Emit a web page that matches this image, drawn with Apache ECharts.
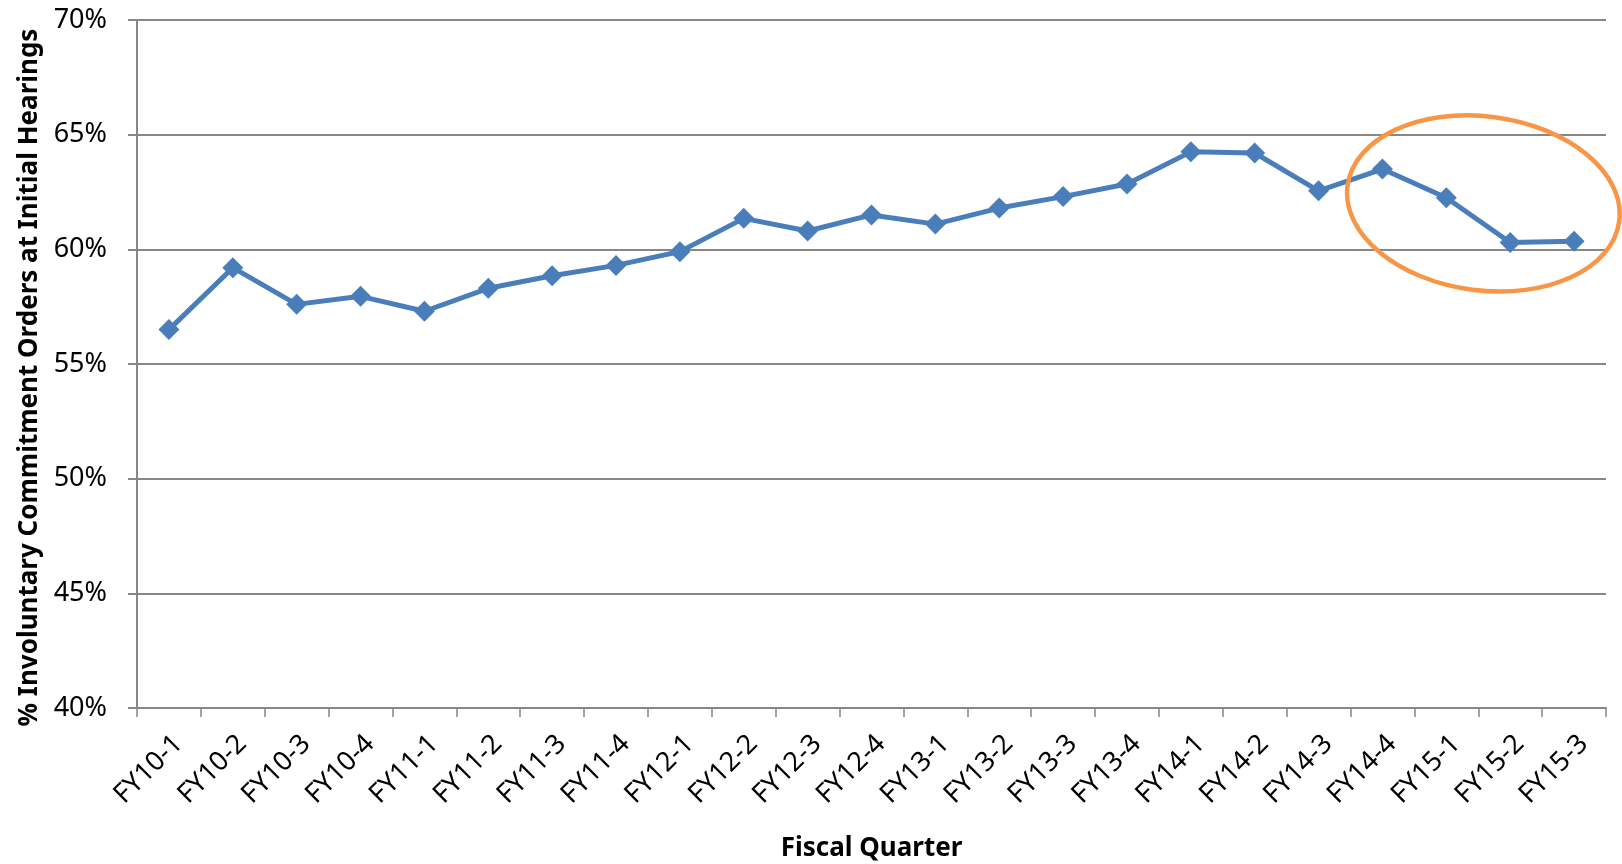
<!DOCTYPE html>
<html>
<head>
<meta charset="utf-8">
<script src="https://cdn.jsdelivr.net/npm/echarts@6/dist/echarts.min.js"></script>
<style>
  html, body { margin: 0; padding: 0; background: #fff; }
  #chart { width: 1622px; height: 864px; }
</style>
</head>
<body>
<div id="chart"></div>
<script>
  // fiscal quarters on the x axis
  var quarters = ['FY10-1', 'FY10-2', 'FY10-3', 'FY10-4', 'FY11-1', 'FY11-2', 'FY11-3', 'FY11-4',
    'FY12-1', 'FY12-2', 'FY12-3', 'FY12-4', 'FY13-1', 'FY13-2', 'FY13-3', 'FY13-4',
    'FY14-1', 'FY14-2', 'FY14-3', 'FY14-4', 'FY15-1', 'FY15-2', 'FY15-3'];
  // % involuntary commitment orders at initial hearings
  var orderPct = [56.5, 59.2, 57.6, 57.95, 57.3, 58.3, 58.85, 59.3,
    59.9, 61.35, 60.8, 61.5, 61.1, 61.8, 62.3, 62.85,
    64.25, 64.2, 62.55, 63.5, 62.25, 60.3, 60.35];
  // y axis range / ticks
  var yMin = 40, yMax = 70, yStep = 5;
  // orange ring drawn round the last quarters
  var ringFrom = 'FY15-1', ringTo = 'FY15-2', ringAt = 0.58, ringLevel = 62;

  var myChart = echarts.init(document.getElementById('chart'));
  var fontFamily = '"Noto Sans", sans-serif';
  var gridGray = '#878787';

  var option = {
    animation: false,
    grid: { left: 137, right: 16, top: 20, bottom: 156, containLabel: false, outerBoundsMode: 'none' },
    xAxis: {
      type: 'category',
      data: quarters,
      boundaryGap: true,
      name: 'Fiscal Quarter',
      nameLocation: 'middle',
      nameGap: 128,
      nameTextStyle: { fontFamily: fontFamily, fontWeight: 'bold', fontSize: 26, color: '#000' },
      axisLine: { show: true, lineStyle: { color: gridGray, width: 2 } },
      axisTick: { show: true, length: 9, inside: false, lineStyle: { color: gridGray, width: 1.5 } },
      axisLabel: {
        rotate: 45, margin: 22, verticalAlign: 'top',
        fontFamily: fontFamily, fontSize: 27, color: '#000', interval: 0
      },
      splitLine: { show: false }
    },
    yAxis: {
      type: 'value',
      min: yMin,
      max: yMax,
      interval: yStep,
      name: '% Involuntary Commitment Orders at Initial Hearings',
      nameLocation: 'middle',
      nameGap: 92,
      nameTextStyle: {
        fontFamily: fontFamily, fontWeight: 'bold', fontSize: 26, color: '#000',
        padding: [0, 27, 0, 0]
      },
      axisLine: { show: true, lineStyle: { color: gridGray, width: 2 } },
      axisTick: { show: true, length: 9, lineStyle: { color: gridGray, width: 2 } },
      axisLabel: { formatter: '{value}%', margin: 30, fontFamily: fontFamily, fontSize: 27, color: '#000' },
      splitLine: { show: true, lineStyle: { color: gridGray, width: 2 } }
    },
    series: [
      {
        type: 'line',
        data: orderPct,
        symbol: 'diamond',
        symbolSize: 21,
        itemStyle: { color: '#4a7ebb' },
        lineStyle: { color: '#4a7ebb', width: 5 }
      }
    ]
  };
  myChart.setOption(option);

  // place the ring from the data scale
  var pA = myChart.convertToPixel({ seriesIndex: 0 }, [ringFrom, ringLevel]);
  var pB = myChart.convertToPixel({ seriesIndex: 0 }, [ringTo, ringLevel]);
  myChart.setOption({
    graphic: [
      {
        type: 'ellipse',
        x: pA[0] + ringAt * (pB[0] - pA[0]),
        y: pA[1],
        rotation: -0.13,
        shape: { cx: 0, cy: 0, rx: 137, ry: 87 },
        style: { fill: 'none', stroke: '#f79646', lineWidth: 4.5 },
        z: 10
      }
    ]
  });
</script>
</body>
</html>
